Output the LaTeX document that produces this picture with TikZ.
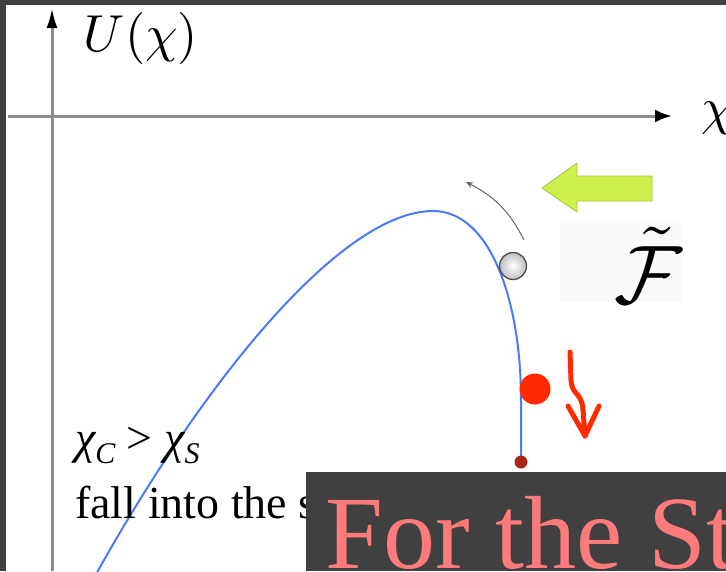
\documentclass[tikz,border=0pt]{standalone}
\usepackage{fontspec}
\setmainfont{Liberation Serif}
\newfontfamily\timesfont{Liberation Serif}
\usetikzlibrary{arrows.meta}
\definecolor{darkbg}{HTML}{404040}
\definecolor{axisgray}{HTML}{8C8C8C}
\definecolor{curveblue}{HTML}{4A7BF7}
\definecolor{arrowgreen}{HTML}{CDF04C}
\definecolor{arrowgreenedge}{HTML}{A9C43A}
\definecolor{hotred}{HTML}{FF2A00}
\definecolor{darkred}{HTML}{A82818}
\definecolor{salmon}{HTML}{FF7B7B}
\definecolor{boxwhite}{HTML}{FAFAFC}
\tikzset{
  axisline/.style={draw=axisgray, line width=3pt},
  potcurve/.style={draw=curveblue, line width=2pt},
  motionarc/.style={draw=black!60, line width=1pt, -{Stealth[length=7pt,width=6pt]}},
  fallarrow/.style={draw=hotred, line width=5pt, line cap=round, line join=round},
  bodytext/.style={inner sep=0pt, anchor=base west, font=\timesfont\fontsize{46}{50}\selectfont},
}
\begin{document}
\begin{tikzpicture}[x=1pt,y=-1pt]
\useasboundingbox (0,0) rectangle (726,571);
% frame
\fill[darkbg] (0,0) rectangle (726,5);
\fill[darkbg] (0,0) rectangle (6,571);
% axes
\coordinate (yb) at (52,571);
\coordinate (yt) at (52,8);
\coordinate (xl) at (8,116);
\coordinate (xr) at (672,116);
\draw[axisline, -{Latex[color=black,length=20pt,width=11pt]}] (yb) -- (yt);
\draw[axisline, -{Latex[color=black,length=17pt,width=13pt]}] (xl) -- (xr);
\node[scale=5.2, inner sep=0pt] (ulabel) at (141,38) {$U(\chi)$};
\node[scale=5.2, inner sep=0pt, anchor=base west] (xlabel) at (700,124) {$\chi$};
% potential curve
\coordinate (cstart) at (95,576);
\coordinate (cpeak) at (433,211);
\coordinate (cbend) at (521,400);
\coordinate (cend) at (521,462);
\draw[potcurve] (cstart) .. controls (210,370) and (345,211) .. (cpeak)
  .. controls (490,211) and (521,300) .. (cbend) -- (cend);
\node[circle, fill=darkred, minimum size=13pt, inner sep=0pt] (enddot) at (cend) {};
% gray ball and its arc
\node[circle, draw=black!70, line width=1.3pt, inner color=white, outer color=black!25,
      minimum size=27pt, inner sep=0pt] (ball) at (513,266) {};
\coordinate (arcstart) at (524,240);
\coordinate (arcend) at (466,182);
\draw[motionarc] (arcstart) to[bend right=18] (arcend);
% green block arrow
\filldraw[fill=arrowgreen, draw=arrowgreenedge, line width=0.8pt]
  (542,188) -- (577,163) -- (577,176) -- (652,176) -- (652,201) -- (577,201) -- (577,212) -- cycle;
% F tilde
\fill[boxwhite] (560,223) rectangle (682,302);
\node[scale=8.3, inner sep=0pt] (flabel) at (648,265) {$\tilde{\mathcal{F}}$};
% red ball and arrow
\node[circle, fill=hotred, minimum size=31pt, inner sep=0pt] (redball) at (535,389) {};
\coordinate (fa) at (570,352);
\coordinate (fb) at (571,380);
\coordinate (fc) at (583,410);
\coordinate (ftip) at (585,436);
\coordinate (hl) at (568,406);
\coordinate (hr) at (599,406);
\draw[fallarrow] (fa) -- (fb) .. controls (572,396) and (582,392) .. (fc) -- (ftip);
\draw[fallarrow] (hl) -- (ftip) -- (hr);
% texts
\node[bodytext] (cond) at (75,453) {\itshape χ\raisebox{-0.22em}{\fontsize{30}{32}\selectfont C}\upshape{} > \itshape χ\raisebox{-0.22em}{\fontsize{30}{32}\selectfont S}};
\node[bodytext] (fall) at (75,518) {fall into the s};
% bottom dark box
\fill[darkbg] (306,472) rectangle (726,571);
\begin{scope}
\clip (306,472) rectangle (726,571);
\node[inner sep=0pt, anchor=base west, text=salmon, font=\timesfont\fontsize{104}{114}\selectfont] (caption) at (325,568) {For the St};
\end{scope}
\end{tikzpicture}
\end{document}
